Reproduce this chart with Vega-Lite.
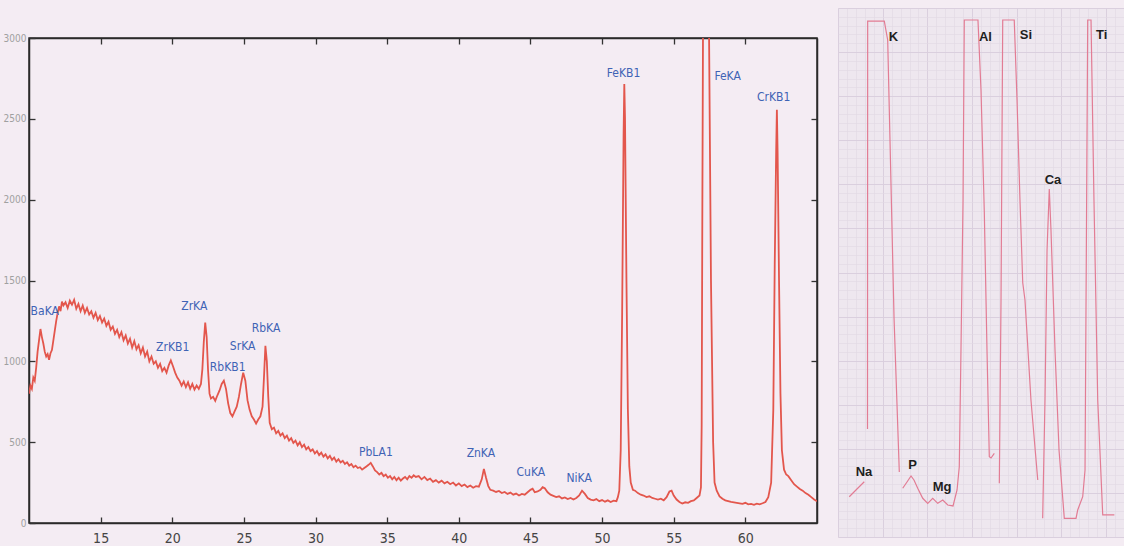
{
  "$schema": "https://vega.github.io/schema/vega-lite/v6.json",
  "background": "#f4ecf3",
  "padding": {"left": 0, "top": 8, "right": 0, "bottom": 0},
  "spacing": 19,
  "datasets": {
    "spec": [
      {"e":10.0,"c":800},{"e":10.1,"c":850},{"e":10.2,"c":830},{"e":10.3,"c":900},{"e":10.4,"c":880},{"e":10.5,"c":960},{"e":10.6,"c":1060},{"e":10.7,"c":1130},{"e":10.8,"c":1200},{"e":10.9,"c":1150},
      {"e":11.0,"c":1110},{"e":11.1,"c":1060},{"e":11.2,"c":1030},{"e":11.3,"c":1045},{"e":11.4,"c":1010},{"e":11.5,"c":1050},{"e":11.6,"c":1070},{"e":11.7,"c":1130},{"e":11.8,"c":1190},{"e":11.9,"c":1250},
      {"e":12.0,"c":1300},{"e":12.1,"c":1340},{"e":12.2,"c":1310},{"e":12.3,"c":1370},{"e":12.4,"c":1345},{"e":12.55,"c":1365},{"e":12.7,"c":1330},{"e":12.85,"c":1375},{"e":13.0,"c":1350},{"e":13.15,"c":1380},
      {"e":13.3,"c":1325},{"e":13.45,"c":1355},{"e":13.6,"c":1310},{"e":13.75,"c":1345},{"e":13.9,"c":1300},{"e":14.05,"c":1330},{"e":14.2,"c":1290},{"e":14.35,"c":1310},{"e":14.5,"c":1270},{"e":14.65,"c":1300},
      {"e":14.8,"c":1255},{"e":14.95,"c":1280},{"e":15.1,"c":1240},{"e":15.25,"c":1265},{"e":15.4,"c":1220},{"e":15.55,"c":1245},{"e":15.7,"c":1195},{"e":15.85,"c":1215},{"e":16.0,"c":1170},{"e":16.15,"c":1195},
      {"e":16.3,"c":1150},{"e":16.45,"c":1180},{"e":16.6,"c":1130},{"e":16.75,"c":1160},{"e":16.9,"c":1110},{"e":17.05,"c":1140},{"e":17.2,"c":1085},{"e":17.35,"c":1125},{"e":17.5,"c":1075},{"e":17.65,"c":1100},
      {"e":17.8,"c":1050},{"e":17.95,"c":1085},{"e":18.1,"c":1030},{"e":18.25,"c":1060},{"e":18.4,"c":1000},{"e":18.55,"c":1030},{"e":18.7,"c":985},{"e":18.85,"c":1000},{"e":19.0,"c":960},{"e":19.15,"c":985},
      {"e":19.3,"c":940},{"e":19.45,"c":960},{"e":19.6,"c":930},{"e":19.75,"c":975},{"e":19.9,"c":1006},{"e":20.05,"c":970},{"e":20.2,"c":930},{"e":20.35,"c":900},{"e":20.5,"c":880},{"e":20.65,"c":850},
      {"e":20.8,"c":875},{"e":20.95,"c":840},{"e":21.1,"c":870},{"e":21.25,"c":830},{"e":21.4,"c":860},{"e":21.55,"c":825},{"e":21.7,"c":850},{"e":21.85,"c":830},{"e":22.0,"c":860},{"e":22.1,"c":950},
      {"e":22.2,"c":1120},{"e":22.3,"c":1240},{"e":22.4,"c":1150},{"e":22.5,"c":940},{"e":22.6,"c":800},{"e":22.7,"c":770},{"e":22.85,"c":780},{"e":23.0,"c":755},{"e":23.15,"c":790},{"e":23.3,"c":820},
      {"e":23.45,"c":860},{"e":23.6,"c":880},{"e":23.75,"c":830},{"e":23.9,"c":740},{"e":24.05,"c":680},{"e":24.2,"c":660},{"e":24.35,"c":690},{"e":24.5,"c":720},{"e":24.65,"c":780},{"e":24.8,"c":860},
      {"e":24.95,"c":930},{"e":25.1,"c":880},{"e":25.25,"c":760},{"e":25.4,"c":700},{"e":25.55,"c":660},{"e":25.7,"c":640},{"e":25.85,"c":615},{"e":26.0,"c":640},{"e":26.15,"c":660},{"e":26.3,"c":720},
      {"e":26.4,"c":900},{"e":26.5,"c":1096},{"e":26.6,"c":1000},{"e":26.7,"c":780},{"e":26.8,"c":620},{"e":26.95,"c":580},{"e":27.1,"c":590},{"e":27.25,"c":555},{"e":27.4,"c":570},{"e":27.55,"c":540},
      {"e":27.7,"c":555},{"e":27.85,"c":525},{"e":28.0,"c":540},{"e":28.15,"c":510},{"e":28.3,"c":525},{"e":28.45,"c":495},{"e":28.6,"c":510},{"e":28.75,"c":480},{"e":28.9,"c":500},{"e":29.05,"c":470},
      {"e":29.2,"c":485},{"e":29.35,"c":455},{"e":29.5,"c":470},{"e":29.65,"c":445},{"e":29.8,"c":455},{"e":29.95,"c":430},{"e":30.1,"c":445},{"e":30.25,"c":420},{"e":30.4,"c":435},{"e":30.55,"c":410},
      {"e":30.7,"c":425},{"e":30.85,"c":400},{"e":31.0,"c":415},{"e":31.15,"c":390},{"e":31.3,"c":405},{"e":31.45,"c":380},{"e":31.6,"c":395},{"e":31.75,"c":375},{"e":31.9,"c":385},{"e":32.05,"c":365},
      {"e":32.2,"c":375},{"e":32.35,"c":355},{"e":32.5,"c":365},{"e":32.65,"c":345},{"e":32.8,"c":355},{"e":32.95,"c":340},{"e":33.1,"c":345},{"e":33.25,"c":330},{"e":33.4,"c":340},{"e":33.55,"c":350},
      {"e":33.7,"c":360},{"e":33.85,"c":372},{"e":34.0,"c":350},{"e":34.15,"c":325},{"e":34.3,"c":315},{"e":34.45,"c":300},{"e":34.6,"c":310},{"e":34.75,"c":290},{"e":34.9,"c":300},{"e":35.05,"c":280},
      {"e":35.2,"c":290},{"e":35.35,"c":270},{"e":35.5,"c":285},{"e":35.65,"c":265},{"e":35.8,"c":280},{"e":35.95,"c":262},{"e":36.1,"c":275},{"e":36.25,"c":285},{"e":36.4,"c":270},{"e":36.55,"c":290},
      {"e":36.7,"c":280},{"e":36.85,"c":295},{"e":37.0,"c":285},{"e":37.2,"c":290},{"e":37.4,"c":270},{"e":37.6,"c":285},{"e":37.8,"c":265},{"e":38.0,"c":275},{"e":38.2,"c":255},{"e":38.4,"c":265},
      {"e":38.6,"c":250},{"e":38.8,"c":262},{"e":39.0,"c":245},{"e":39.2,"c":255},{"e":39.4,"c":240},{"e":39.6,"c":250},{"e":39.8,"c":232},{"e":40.0,"c":245},{"e":40.2,"c":228},{"e":40.4,"c":238},
      {"e":40.6,"c":222},{"e":40.8,"c":232},{"e":41.0,"c":218},{"e":41.2,"c":228},{"e":41.4,"c":225},{"e":41.6,"c":270},{"e":41.75,"c":335},{"e":41.9,"c":280},{"e":42.05,"c":230},{"e":42.2,"c":205},
      {"e":42.4,"c":200},{"e":42.6,"c":192},{"e":42.8,"c":198},{"e":43.0,"c":185},{"e":43.2,"c":192},{"e":43.4,"c":180},{"e":43.6,"c":188},{"e":43.8,"c":175},{"e":44.0,"c":182},{"e":44.2,"c":170},
      {"e":44.4,"c":180},{"e":44.6,"c":175},{"e":44.8,"c":190},{"e":45.0,"c":205},{"e":45.15,"c":212},{"e":45.3,"c":190},{"e":45.5,"c":195},{"e":45.7,"c":205},{"e":45.85,"c":222},{"e":46.0,"c":215},
      {"e":46.2,"c":190},{"e":46.4,"c":175},{"e":46.6,"c":168},{"e":46.8,"c":160},{"e":47.0,"c":165},{"e":47.2,"c":152},{"e":47.4,"c":158},{"e":47.6,"c":148},{"e":47.8,"c":155},{"e":48.0,"c":145},
      {"e":48.2,"c":155},{"e":48.4,"c":170},{"e":48.6,"c":200},{"e":48.8,"c":180},{"e":49.0,"c":155},{"e":49.2,"c":145},{"e":49.4,"c":140},{"e":49.6,"c":148},{"e":49.8,"c":135},{"e":50.0,"c":142},
      {"e":50.2,"c":132},{"e":50.4,"c":140},{"e":50.6,"c":130},{"e":50.8,"c":138},{"e":51.0,"c":135},{"e":51.1,"c":160},{"e":51.2,"c":200},{"e":51.3,"c":450},{"e":51.4,"c":1300},{"e":51.5,"c":2400},
      {"e":51.55,"c":2715},{"e":51.6,"c":2500},{"e":51.7,"c":1500},{"e":51.8,"c":700},{"e":51.9,"c":350},{"e":52.0,"c":250},{"e":52.15,"c":205},{"e":52.3,"c":200},{"e":52.5,"c":185},{"e":52.7,"c":175},
      {"e":52.9,"c":170},{"e":53.1,"c":160},{"e":53.3,"c":165},{"e":53.5,"c":155},{"e":53.7,"c":150},{"e":53.9,"c":145},{"e":54.1,"c":150},{"e":54.3,"c":140},{"e":54.5,"c":160},{"e":54.7,"c":195},
      {"e":54.85,"c":200},{"e":55.0,"c":170},{"e":55.2,"c":145},{"e":55.4,"c":130},{"e":55.6,"c":120},{"e":55.8,"c":128},{"e":56.0,"c":125},{"e":56.2,"c":135},{"e":56.4,"c":140},{"e":56.6,"c":155},
      {"e":56.8,"c":170},{"e":56.9,"c":220},{"e":56.95,"c":600},{"e":57.0,"c":2000},{"e":57.05,"c":3200},{"e":57.25,"c":4500},{"e":57.45,"c":3200},{"e":57.6,"c":1500},{"e":57.75,"c":500},{"e":57.85,"c":250},
      {"e":58.0,"c":200},{"e":58.2,"c":165},{"e":58.4,"c":150},{"e":58.6,"c":140},{"e":58.8,"c":135},{"e":59.0,"c":130},{"e":59.2,"c":128},{"e":59.4,"c":125},{"e":59.6,"c":122},{"e":59.8,"c":118},
      {"e":60.0,"c":125},{"e":60.2,"c":115},{"e":60.4,"c":118},{"e":60.6,"c":112},{"e":60.8,"c":120},{"e":61.0,"c":115},{"e":61.2,"c":122},{"e":61.4,"c":130},{"e":61.6,"c":160},{"e":61.8,"c":250},
      {"e":61.95,"c":700},{"e":62.05,"c":1600},{"e":62.15,"c":2300},{"e":62.2,"c":2556},{"e":62.25,"c":2300},{"e":62.35,"c":1500},{"e":62.45,"c":800},{"e":62.55,"c":450},{"e":62.7,"c":330},{"e":62.85,"c":300},
      {"e":63.0,"c":290},{"e":63.2,"c":265},{"e":63.4,"c":240},{"e":63.6,"c":225},{"e":63.8,"c":210},{"e":64.0,"c":200},{"e":64.2,"c":185},{"e":64.4,"c":175},{"e":64.6,"c":160},{"e":64.8,"c":145},{"e":65.0,"c":135}
    ],
    "lab": [
      {"e":11.1,"c":1311,"t":"BaKA"},{"e":20.03,"c":1089,"t":"ZrKB1"},{"e":21.54,"c":1342,"t":"ZrKA"},
      {"e":24.91,"c":1095,"t":"SrKA"},{"e":23.87,"c":963,"t":"RbKB1"},{"e":26.54,"c":1208,"t":"RbKA"},
      {"e":34.21,"c":441,"t":"PbLA1"},{"e":41.54,"c":431,"t":"ZnKA"},{"e":45.03,"c":317,"t":"CuKA"},
      {"e":48.4,"c":276,"t":"NiKA"},{"e":51.5,"c":2786,"t":"FeKB1"},{"e":58.76,"c":2765,"t":"FeKA"},
      {"e":61.97,"c":2637,"t":"CrKB1"}
    ],
    "rec": [
      {"s":1,"x":1.26,"y":4.57},{"s":1,"x":2.12,"y":5.44},{"s":1,"x":2.94,"y":6.27},
      {"s":2,"x":3.3,"y":12.25},{"s":2,"x":3.32,"y":58.52},{"s":2,"x":5.18,"y":58.52},{"s":2,"x":5.56,"y":56.37},{"s":2,"x":5.82,"y":44.92},{"s":2,"x":6.27,"y":24.84},{"s":2,"x":6.86,"y":7.37},
      {"s":3,"x":7.24,"y":5.53},{"s":3,"x":7.72,"y":6.24},{"s":3,"x":8.17,"y":6.92},{"s":3,"x":8.5,"y":6.47},{"s":3,"x":8.92,"y":5.53},{"s":3,"x":9.48,"y":4.39},{"s":3,"x":10.04,"y":3.82},{"s":3,"x":10.6,"y":4.39},
      {"s":3,"x":11.16,"y":3.82},{"s":3,"x":11.72,"y":4.19},{"s":3,"x":12.28,"y":3.63},{"s":3,"x":12.87,"y":3.52},{"s":3,"x":13.32,"y":5.33},{"s":3,"x":13.57,"y":7.97},{"s":3,"x":13.76,"y":21.21},{"s":3,"x":13.99,"y":38.23},
      {"s":3,"x":14.13,"y":58.64},{"s":3,"x":15.66,"y":58.64},{"s":3,"x":16.0,"y":50.7},{"s":3,"x":16.37,"y":36.86},{"s":3,"x":16.67,"y":21.21},{"s":3,"x":16.93,"y":9.11},{"s":3,"x":17.12,"y":8.96},{"s":3,"x":17.49,"y":9.49},
      {"s":4,"x":18.05,"y":6.09},{"s":4,"x":18.24,"y":26.88},{"s":4,"x":18.43,"y":58.64},{"s":4,"x":19.72,"y":58.64},{"s":4,"x":20.03,"y":49.57},{"s":4,"x":20.36,"y":38.23},{"s":4,"x":20.67,"y":28.84},{"s":4,"x":20.92,"y":26.88},{"s":4,"x":21.59,"y":15.54},{"s":4,"x":22.35,"y":6.47},
      {"s":5,"x":22.9,"y":2.12},{"s":5,"x":23.16,"y":15.54},{"s":5,"x":23.39,"y":32.55},{"s":5,"x":23.64,"y":39.47},{"s":5,"x":23.83,"y":34.82},{"s":5,"x":24.28,"y":21.21},{"s":5,"x":24.73,"y":9.87},{"s":5,"x":25.32,"y":2.12},
      {"s":5,"x":26.63,"y":2.12},{"s":5,"x":26.82,"y":3.06},{"s":5,"x":27.38,"y":4.57},{"s":5,"x":27.64,"y":7.6},{"s":5,"x":27.94,"y":58.64},{"s":5,"x":28.31,"y":58.64},{"s":5,"x":28.64,"y":38.23},{"s":5,"x":29.06,"y":15.54},{"s":5,"x":29.62,"y":2.5},{"s":5,"x":30.92,"y":2.5}
    ],
    "rlab": [
      {"x":6.21,"y":56.71,"t":"K"},{"x":16.5,"y":56.71,"t":"Al"},{"x":21.03,"y":56.94,"t":"Si"},{"x":29.5,"y":56.94,"t":"Ti"},
      {"x":24.05,"y":40.49,"t":"Ca"},{"x":2.91,"y":7.4,"t":"Na"},{"x":8.35,"y":8.17,"t":"P"},{"x":11.65,"y":5.63,"t":"Mg"}
    ]
  },
  "hconcat": [
    {
      "spacing": 0,
      "vconcat": [
        {
          "width": 788,
          "height": 24,
          "view": {"stroke": null},
          "data": {"values": []},
          "mark": {"type": "point", "opacity": 0}
        },
        {
          "width": 788,
          "height": 485,
          "view": {"stroke": "#2a2a2a", "strokeWidth": 1.5},
          "layer": [
            {
              "data": {"name": "spec"},
              "mark": {"type": "line", "color": "#e3564c", "strokeWidth": 1.8, "clip": true},
              "encoding": {
                "x": {"field": "e", "type": "quantitative", "scale": {"domain": [10, 65], "nice": false, "zero": false},
                  "axis": {"orient": "bottom", "values": [15,20,25,30,35,40,45,50,55,60], "title": null, "grid": false, "tickSize": -6, "tickColor": "#333", "tickWidth": 1.3, "domainColor": "#2a2a2a", "domainWidth": 1.5, "labelPadding": 14, "labelFont": "DejaVu Sans Condensed, Liberation Sans, sans-serif", "labelFontSize": 14, "labelColor": "#444"}},
                "y": {"field": "c", "type": "quantitative", "scale": {"domain": [0, 3000], "nice": false},
                  "axis": {"orient": "left", "values": [0,500,1000,1500,2000,2500,3000], "format": "d", "title": null, "grid": false, "tickSize": -6, "tickColor": "#333", "tickWidth": 1.3, "domainColor": "#2a2a2a", "domainWidth": 1.5, "labelPadding": 9, "labelFont": "DejaVu Sans Condensed, Liberation Sans, sans-serif", "labelFontSize": 10, "labelColor": "#a0a0a0", "minExtent": 28, "maxExtent": 28}}
              }
            },
            {
              "data": {"name": "lab"},
              "mark": {"type": "text", "color": "#3f63b5", "font": "DejaVu Sans Condensed, Liberation Sans, sans-serif", "fontSize": 12, "baseline": "middle", "align": "center"},
              "encoding": {
                "x": {"field": "e", "type": "quantitative", "scale": {"domain": [10, 65], "nice": false, "zero": false},
                  "axis": {"orient": "top", "values": [15,20,25,30,35,40,45,50,55,60], "labels": false, "title": null, "grid": false, "tickSize": -6, "tickColor": "#333", "tickWidth": 1.3, "domainColor": "#2a2a2a", "domainWidth": 1.5}},
                "y": {"field": "c", "type": "quantitative", "scale": {"domain": [0, 3000], "nice": false},
                  "axis": {"orient": "right", "values": [500,1000,1500,2000,2500], "labels": false, "title": null, "grid": false, "tickSize": -6, "tickColor": "#333", "tickWidth": 1.3, "domainColor": "#2a2a2a", "domainWidth": 1.5, "minExtent": 0, "maxExtent": 0}},
                "text": {"field": "t"}
              }
            }
          ],
          "resolve": {"axis": {"x": "independent", "y": "independent"}}
        }
      ]
    },
    {
      "width": 286,
      "height": 529,
      "view": {"fill": "#eee7ef", "stroke": null},
      "layer": [
        {
          "data": {"name": "rec"},
          "mark": {"type": "line", "color": "#e27c94", "strokeWidth": 1.2},
          "encoding": {
            "x": {"field": "x", "type": "quantitative", "scale": {"domain": [0, 32], "nice": false, "zero": false},
              "axis": {"tickCount": 32, "grid": true, "gridColor": "#e0d8e3", "gridWidth": 0.6, "labels": false, "ticks": false, "domain": false, "title": null}},
            "y": {"field": "y", "type": "quantitative", "scale": {"domain": [0, 60], "nice": false},
              "axis": {"tickCount": 60, "grid": true, "gridColor": "#e0d8e3", "gridWidth": 0.6, "labels": false, "ticks": false, "domain": false, "title": null}},
            "detail": {"field": "s"}
          }
        },
        {
          "data": {"name": "rlab"},
          "mark": {"type": "text", "font": "Liberation Sans", "fontWeight": "bold", "fontSize": 13, "color": "#1e1e1e", "baseline": "middle", "align": "center"},
          "encoding": {
            "x": {"field": "x", "type": "quantitative", "scale": {"domain": [0, 32], "nice": false, "zero": false},
              "axis": {"orient": "top", "values": [0,5,10,15,20,25,30], "grid": true, "gridColor": "#d8cddd", "gridWidth": 0.9, "labels": false, "ticks": false, "domain": false, "title": null}},
            "y": {"field": "y", "type": "quantitative", "scale": {"domain": [0, 60], "nice": false},
              "axis": {"orient": "right", "values": [0,5,10,15,20,25,30,35,40,45,50,55,60], "grid": true, "gridColor": "#d8cddd", "gridWidth": 0.9, "labels": false, "ticks": false, "domain": false, "title": null}},
            "text": {"field": "t"}
          }
        }
      ],
      "resolve": {"axis": {"x": "independent", "y": "independent"}}
    }
  ]
}
